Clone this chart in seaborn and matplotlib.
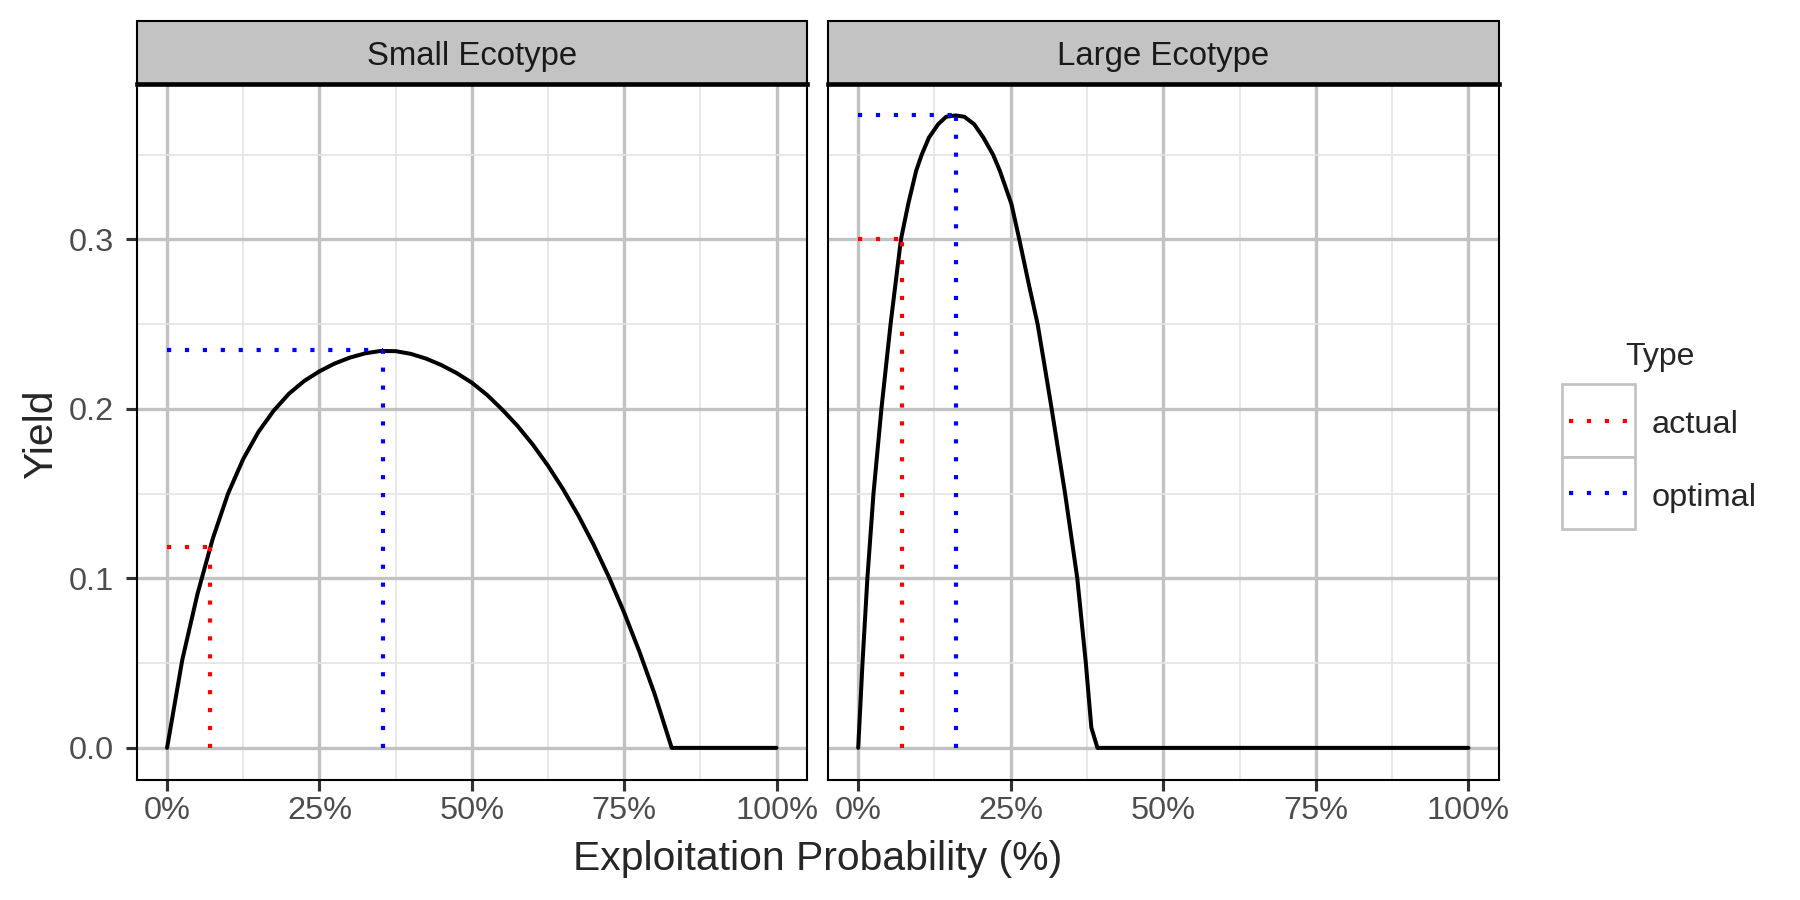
import pandas as pd
import matplotlib
matplotlib.use("Agg")
import matplotlib.pyplot as plt
from matplotlib.patches import Rectangle
from matplotlib.lines import Line2D
from matplotlib.ticker import MultipleLocator, PercentFormatter, FormatStrFormatter
import seaborn as sns

# Yield curves (x = exploitation probability in %)
small_x = [0, 2.5, 5, 7.5, 10, 12.5, 15, 17.5, 20, 22.5, 25, 27.5, 30, 32.5, 35,
           37.5, 40, 42.5, 45, 47.5, 50, 52.5, 55, 57.5, 60, 62.5, 65, 67.5, 70,
           72.5, 75, 77.5, 80, 82.8, 100]
small_yield = [0.0, 0.052, 0.091, 0.1235, 0.150, 0.1705, 0.1865, 0.1990, 0.2090,
               0.2165, 0.2222, 0.2268, 0.2303, 0.2328, 0.2342, 0.2341, 0.2325,
               0.2297, 0.2259, 0.2212, 0.2155, 0.2083, 0.1996, 0.1900, 0.1790,
               0.1665, 0.1525, 0.1370, 0.1198, 0.1008, 0.0798, 0.0568, 0.0318,
               0.0, 0.0]

large_x = [0, 0.7, 1.5, 2.5, 3.8, 5.3, 7.0, 8.2, 9.5, 10.4, 11.6, 13.1, 14.4, 16.0,
           17.4, 19.0, 20.5, 22.1, 23.2, 25.1, 26.4, 28.0, 29.4, 30.5, 31.7, 33.9,
           35.9, 37.3, 38.2, 39.2, 100]
large_yield = [0.0, 0.05, 0.10, 0.15, 0.20, 0.25, 0.30, 0.321, 0.3406, 0.35, 0.3602,
               0.368, 0.3724, 0.3732, 0.3724, 0.368, 0.3602, 0.35, 0.3406, 0.321,
               0.30, 0.2728, 0.25, 0.2263, 0.20, 0.15, 0.10, 0.05, 0.012, 0.0, 0.0]

ecotypes = ["Small Ecotype", "Large Ecotype"]
actual_x = [7.1, 7.1]
actual_yield = [0.1185, 0.300]
optimal_x = [35.45, 15.95]
optimal_yield = [0.2345, 0.3732]

type_labels = ["actual", "optimal"]
type_colors = ["red", "blue"]

curves = pd.concat([
    pd.DataFrame({"Ecotype": ecotypes[0], "Exploitation": small_x, "Yield": small_yield}),
    pd.DataFrame({"Ecotype": ecotypes[1], "Exploitation": large_x, "Yield": large_yield}),
])
points = pd.DataFrame({
    "Ecotype": ecotypes * 2,
    "Type": [type_labels[0]] * 2 + [type_labels[1]] * 2,
    "x": actual_x + optimal_x,
    "y": actual_yield + optimal_yield,
})

sns.set_style("white")
plt.rcParams["font.family"] = ["Liberation Sans", "DejaVu Sans"]

W, H = 1800, 900


def fx(x):
    return x / W


def fy(y):
    return 1 - y / H


def box(x0, y0, x1, y1):
    return [fx(x0), fy(y1), (x1 - x0) / W, (y1 - y0) / H]


DOT = (0, (1, 3.3))
DOT_LW = 1.0
panel_top, panel_bottom = 83.8, 779.5
panel_h = panel_bottom - panel_top

fig = plt.figure(figsize=(6, 3), dpi=300)
ax_left = fig.add_axes(box(136.6, panel_top, 807, panel_bottom))
ax_right = fig.add_axes(box(827.7, panel_top, 1499, panel_bottom), sharey=ax_left)

for ax, name in zip([ax_left, ax_right], ecotypes):
    sns.lineplot(data=curves[curves["Ecotype"] == name], x="Exploitation", y="Yield",
                 ax=ax, color="black", linewidth=0.96, estimator=None, sort=False,
                 zorder=3)
    sub = points[points["Ecotype"] == name]
    for t, c in zip(type_labels, type_colors):
        row = sub[sub["Type"] == t].iloc[0]
        ax.plot([row["x"], row["x"]], [0, row["y"]], color=c, lw=DOT_LW,
                linestyle=DOT, zorder=4)
        ax.plot([0, row["x"]], [row["y"], row["y"]], color=c, lw=DOT_LW,
                linestyle=DOT, zorder=4)

    ax.set_xlabel("")
    ax.set_ylabel("")
    ax.xaxis.set_major_locator(MultipleLocator(25))
    ax.xaxis.set_minor_locator(MultipleLocator(12.5))
    ax.yaxis.set_major_locator(MultipleLocator(0.1))
    ax.yaxis.set_minor_locator(MultipleLocator(0.05))
    ax.xaxis.set_major_formatter(PercentFormatter(xmax=100, decimals=0))
    ax.yaxis.set_major_formatter(FormatStrFormatter("%.1f"))
    ax.grid(which="major", color="#C2C2C2", lw=0.8)
    ax.grid(which="minor", color="#E4E4E4", lw=0.4)
    ax.set_axisbelow(True)
    ax.tick_params(which="major", direction="out", length=2.65, width=0.75,
                   color="#333333", labelsize=7.8, labelcolor="#4D4D4D")
    ax.tick_params(which="minor", length=0)
    ax.tick_params(axis="x", bottom=True, pad=1.3)
    ax.tick_params(axis="y", left=True, pad=2.8)
    for s in ax.spines.values():
        s.set_color("black")
        s.set_linewidth(0.5)
    ax.spines["top"].set_linewidth(1.1)

    # facet strip
    strip_h = 63.1 / panel_h
    ax.add_artist(Rectangle((0, 1), 1, strip_h, transform=ax.transAxes, clip_on=False,
                            facecolor="#C3C3C3", edgecolor="black", lw=0.5))
    ax.text(0.5, (panel_bottom - 65) / panel_h, name, transform=ax.transAxes,
            ha="center", va="baseline", fontsize=7.9, color="#1A1A1A")

ax_right.tick_params(axis="y", left=False, labelleft=False)

fig.text(fx(817.8), fy(870), "Exploitation Probability (%)", ha="center",
         va="baseline", fontsize=9.8)
fig.text(fx(52), fy(434), "Yield", rotation=90, rotation_mode="anchor",
         ha="center", va="baseline", fontsize=9.8)

# legend
fig.text(fx(1660), fy(365), "Type", ha="center", va="baseline", fontsize=7.7)
key_w, key_h = 73.3, 72.4
for top, label, color in zip([384.3, 456.7], type_labels, type_colors):
    fig.add_artist(Rectangle((fx(1561.7), fy(top + key_h)), key_w / W, key_h / H,
                             transform=fig.transFigure, facecolor="white",
                             edgecolor="#C2C2C2", lw=0.65))
    fig.add_artist(Line2D([fx(1569), fx(1629)], [fy(top + key_h / 2)] * 2,
                          transform=fig.transFigure, color=color, lw=DOT_LW,
                          linestyle=DOT))
    fig.text(fx(1652), fy(top + 49), label, ha="left", va="baseline", fontsize=7.8)

plt.savefig("out.png", dpi=300)
